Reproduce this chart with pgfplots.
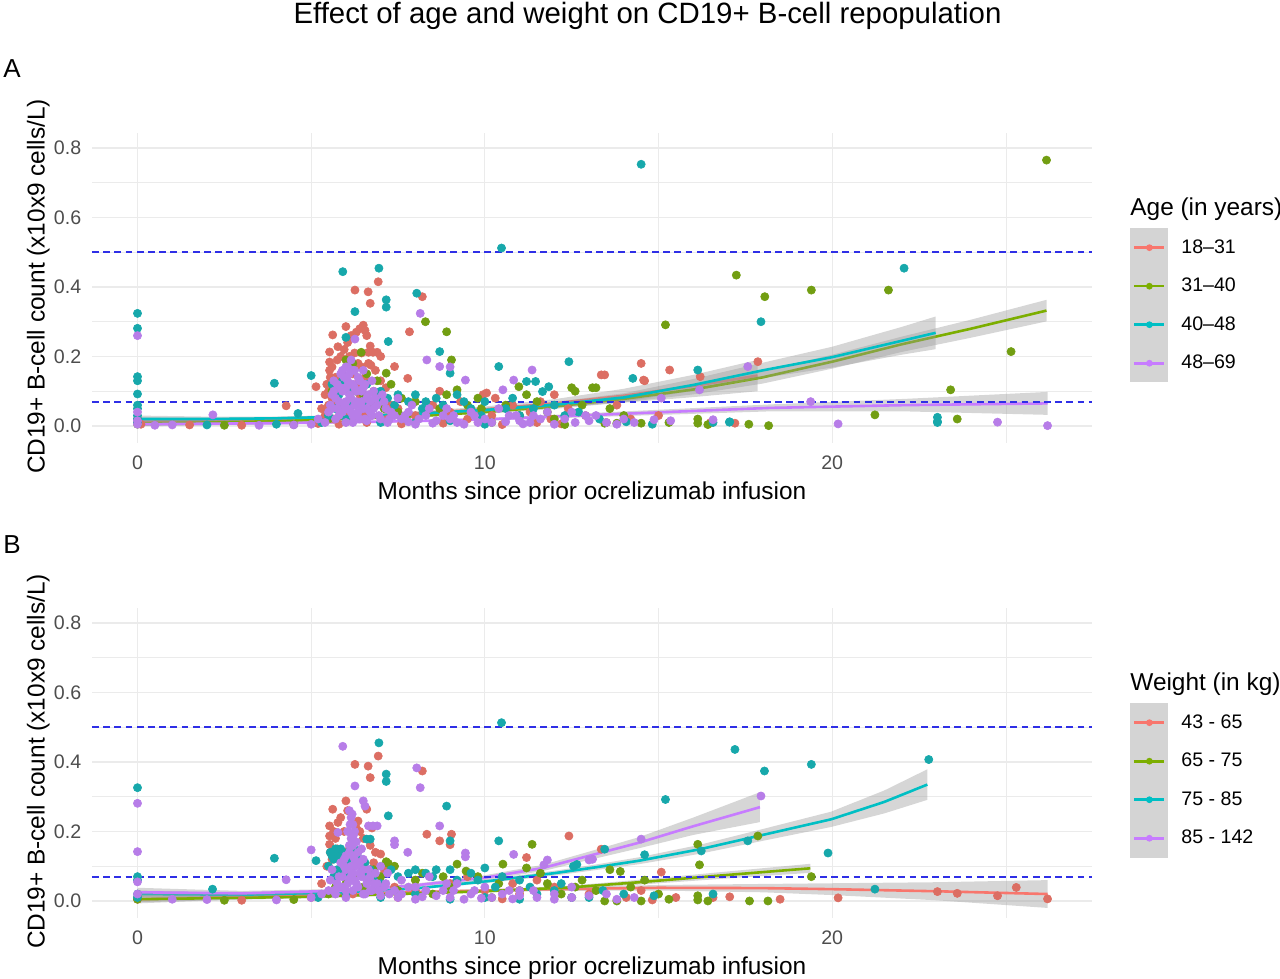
\documentclass[border=0pt]{standalone}
\usepackage{fontspec}
\setmainfont{Liberation Sans}
\usepackage{pgfplots}
\pgfplotsset{compat=1.18}
\definecolor{lred}{HTML}{F8766D}
\definecolor{lolive}{HTML}{7CAE00}
\definecolor{lteal}{HTML}{00BFC4}
\definecolor{lpurple}{HTML}{C77CFF}
\definecolor{pred}{HTML}{DC6E63}
\definecolor{polive}{HTML}{729E12}
\definecolor{pteal}{HTML}{17A8AB}
\definecolor{ppurple}{HTML}{B77DE8}
\definecolor{gridc}{HTML}{EBEBEB}
\definecolor{tickc}{HTML}{4D4D4D}
\definecolor{ribbon}{HTML}{999999}
\definecolor{keyg}{HTML}{D4D4D4}
\definecolor{dashb}{HTML}{2F2FE6}
\pgfplotsset{
  panel/.style={
    scale only axis, width=500pt, height=155pt,
    xmin=-1.31, xmax=27.48, ymin=-0.049, ymax=0.843,
    axis line style={draw=none}, major tick length=0pt, minor tick length=0pt,
    tick style={draw=none},
    xtick={0,10,20}, minor xtick={5,15,25},
    ytick={0,0.2,0.4,0.6,0.8}, minor ytick={0.1,0.3,0.5,0.7},
    grid=both,
    major grid style={color=gridc, line width=0.65pt},
    minor grid style={color=gridc, line width=0.35pt},
    /pgf/number format/assume math mode=true,
    scaled y ticks=false,
    y tick label style={/pgf/number format/.cd, fixed, fixed zerofill, precision=1, /tikz/.cd},
    tick label style={font=\fontsize{9.8}{11}\selectfont, text=tickc},
    yticklabel style={inner sep=0pt, xshift=-5.2pt},
    xticklabel style={inner sep=0pt, yshift=-6pt},
    legend image code/.code={
      \fill[keyg, draw=none] (0pt,-9.63pt) rectangle (19pt,9.63pt);
      \draw[line width=1.3pt] (2pt,0pt) -- (17pt,0pt);
      \fill[draw=none] (9.5pt,0pt) circle (1.7pt);
    },
    legend cell align=left,
    legend style={at={(1.038,0.6935)}, anchor=north west, draw=none, fill=none,
      inner sep=0pt, row sep=0pt, column sep=6.5pt,
      nodes={inner sep=0pt}, font=\fontsize{9.8}{11}\selectfont},
  },
  pts/.style={only marks, mark=*, color=#1, mark size=2.05pt, mark options={solid, fill=#1, draw=#1, line width=0.3pt}, forget plot},
  rib/.style={fill=ribbon, fill opacity=0.4, draw=none, forget plot},
  sm/.style={color=#1, line width=1.3pt, no marks},
  hl/.style={dashb, line width=0.9pt, dash pattern=on 3.4pt off 2.2pt, forget plot},
}
\begin{document}
\begin{tikzpicture}
\useasboundingbox (0,0) rectangle (640pt,-489.5pt);
% ---------------- Panel A ----------------
\begin{axis}[panel, at={(46pt,-221.5pt)}, anchor=south west]
\addplot[pts=pred] coordinates {
(4.28,0.058)(5.14,0.113)(5.62,0.262)(5.53,0.213)(5.53,0.184)(5.53,0.16)(5.77,0.228)(6.0,0.286)(6.5,0.29)(6.55,0.275)(6.6,0.26)(6.65,0.212)(6.78,0.212)(6.9,0.212)(6.65,0.18)(6.72,0.175)(6.26,0.391)(6.64,0.386)(6.7,0.353)(6.93,0.415)(8.2,0.372)(7.83,0.271)(7.4,0.171)(7.78,0.137)(9.95,0.09)(10.05,0.095)(13.35,0.147)(13.45,0.147)(14.5,0.18)(14.57,0.132)(14.6,0.13)(15.32,0.161)(16.2,0.142)(17.86,0.185)(5.45,0.12)(5.5,0.1)(5.6,0.08)(5.7,0.14)(5.8,0.11)(5.9,0.06)(6.1,0.2)(6.2,0.15)(6.3,0.12)(6.4,0.09)(6.45,0.17)(6.8,0.1)(7.0,0.13)(7.1,0.08)(5.3,0.05)(5.4,0.03)(5.65,0.02)(6.0,0.04)(6.5,0.03)(7.2,0.02)(7.5,0.05)(8.0,0.03)(8.5,0.06)(9.0,0.04)(9.5,0.02)(10.2,0.03)(10.8,0.06)(11.3,0.04)(11.9,0.02)(12.4,0.05)(12.9,0.03)(13.8,0.06)(0,0.01)(0,0.02)(0.1,0.005)(1.5,0.003)(3,0.002)(5.2,0.007)(5.8,0.005)(6.6,0.01)(7.6,0.006)(8.8,0.008)(10.5,0.004)(11.5,0.01)(12.2,0.006)(13.5,0.01)(14.2,0.02)(15.0,0.03)(16.5,0.01)(17.2,0.008)(10.3,0.08)(11.6,0.07)(12.0,0.09)(9.3,0.07)(8.7,0.1)
(5.4,0.09)(5.5,0.06)(5.55,0.14)(5.6,0.17)(5.7,0.06)(5.75,0.19)(5.85,0.2)(5.95,0.22)(6.05,0.24)(6.15,0.26)(6.25,0.21)(6.35,0.18)(6.45,0.21)(6.55,0.14)(6.7,0.23)(6.85,0.16)(7.0,0.2)(7.15,0.11)(7.3,0.06)(6.4,0.28)(6.3,0.27)
};
\addplot[pts=polive] coordinates {
(0,0.005)(0,0.01)(6.0,0.19)(6.44,0.212)(6.2,0.18)(6.6,0.15)(7.16,0.152)(7.3,0.12)(8.29,0.3)(8.9,0.271)(9.04,0.19)(9.2,0.104)(10.98,0.113)(12.5,0.11)(12.6,0.1)(13.1,0.11)(13.2,0.11)(15.2,0.291)(17.24,0.434)(18.06,0.372)(19.4,0.391)(21.62,0.391)(25.15,0.214)(23.41,0.104)(21.23,0.032)(23.6,0.02)(26.17,0.765)(17.6,0.005)(18.17,0.001)(16.13,0.02)(16.13,0.008)(16.42,0.004)(15.3,0.01)(14.5,0.008)(13.8,0.008)(13.45,0.008)(12.0,0.02)(11.0,0.03)(10.2,0.01)(9.5,0.06)(8.7,0.05)(8.0,0.07)(7.5,0.04)(7.0,0.09)(6.8,0.06)(6.3,0.1)(5.8,0.05)(5.5,0.02)(9.8,0.08)(11.5,0.07)(12.8,0.06)(14.0,0.03)(12.3,0.004)(2.5,0.002)(4.5,0.004)
(5.6,0.1)(5.9,0.15)(6.1,0.12)(6.5,0.09)(6.9,0.13)(7.1,0.05)(7.6,0.08)(8.3,0.04)(8.9,0.09)(9.9,0.05)(10.6,0.06)(11.2,0.09)(11.8,0.04)(13.6,0.05)
};
\addplot[pts=pteal] coordinates {
(0,0.324)(0,0.281)(0,0.142)(0,0.13)(0,0.092)(0,0.06)(0,0.05)(0,0.03)(0,0.02)(0,0.01)(3.94,0.123)(4.62,0.036)(5.0,0.145)(5.91,0.444)(6.95,0.454)(7.16,0.363)(7.16,0.342)(6.26,0.329)(8.04,0.382)(7.22,0.243)(8.7,0.214)(9.0,0.152)(6.0,0.255)(10.48,0.512)(10.4,0.171)(12.42,0.185)(16.13,0.161)(14.26,0.137)(11.2,0.128)(11.46,0.128)(11.84,0.113)(11.66,0.099)(14.07,0.012)(14.82,0.005)(16.57,0.01)(17.05,0.012)(17.95,0.3)(14.5,0.753)(22.07,0.454)(23.03,0.025)(23.03,0.013)(23.03,0.01)(17.04,0.011)(5.6,0.12)(5.8,0.09)(6.1,0.1)(6.5,0.07)(7.0,0.1)(7.2,0.08)(7.4,0.06)(8.0,0.09)(8.3,0.07)(8.6,0.08)(9.2,0.09)(9.6,0.05)(10.0,0.07)(10.6,0.05)(11.0,0.03)(12.0,0.06)(12.7,0.04)(13.3,0.02)(5.3,0.01)(6.0,0.02)(7.0,0.01)(8.0,0.01)(9.0,0.015)(10.0,0.005)(2.0,0.003)(4.0,0.005)
(5.5,0.03)(5.7,0.05)(5.9,0.13)(6.2,0.06)(6.6,0.12)(6.9,0.08)(7.5,0.09)(7.8,0.07)(8.2,0.05)(8.8,0.06)(9.4,0.07)(9.9,0.03)(10.8,0.08)(11.4,0.05)(12.3,0.03)
};
\addplot[pts=ppurple] coordinates {
(0,0.26)(0,0.04)(0,0.015)(0,0.005)(0.5,0.002)(2.17,0.032)(6.26,0.25)(8.14,0.324)(8.33,0.19)(8.7,0.171)(9.0,0.17)(9.44,0.132)(10.52,0.104)(10.83,0.132)(11.36,0.161)(15.08,0.08)(16.18,0.104)(17.57,0.171)(19.38,0.07)(14.87,0.018)(15.35,0.015)(16.57,0.018)(20.17,0.006)(24.76,0.011)(26.2,0.001)(5.6,0.05)(5.7,0.08)(5.75,0.12)(5.8,0.03)(5.85,0.15)(5.9,0.1)(5.95,0.06)(6.0,0.17)(6.05,0.13)(6.1,0.09)(6.15,0.04)(6.2,0.16)(6.25,0.11)(6.3,0.07)(6.35,0.14)(6.4,0.02)(6.45,0.1)(6.5,0.05)(6.55,0.12)(6.6,0.08)(6.7,0.04)(6.8,0.1)(6.9,0.06)(7.0,0.02)(7.1,0.07)(7.3,0.04)(7.5,0.08)(7.7,0.03)(7.9,0.06)(8.1,0.02)(8.4,0.05)(8.8,0.03)(9.2,0.01)(9.6,0.04)(10.0,0.02)(10.4,0.05)(10.9,0.03)(11.3,0.01)(11.8,0.04)(12.3,0.02)(12.9,0.03)(13.5,0.01)(5.2,0.02)(5.4,0.01)(5.5,0.04)(5.0,0.005)(4.5,0.003)(3.5,0.002)(1.0,0.003)(6.2,0.01)(6.6,0.015)(7.2,0.01)(7.8,0.012)(8.5,0.008)(9.0,0.02)(9.8,0.01)(10.6,0.012)(11.1,0.006)(11.6,0.02)(12.6,0.01)(13.2,0.03)(14.0,0.02)(6.0,0.07)(6.1,0.12)(6.3,0.03)(6.5,0.16)(6.4,0.06)(5.65,0.1)(6.75,0.13)(7.05,0.09)
(5.55,0.06)(5.6,0.09)(5.65,0.13)(5.7,0.02)(5.75,0.05)(5.8,0.07)(5.85,0.11)(5.9,0.04)(5.95,0.14)(6.0,0.01)(6.0,0.11)(6.05,0.05)(6.1,0.15)(6.15,0.08)(6.2,0.03)(6.2,0.12)(6.25,0.06)(6.3,0.1)(6.35,0.04)(6.4,0.13)(6.45,0.07)(6.5,0.11)(6.55,0.02)(6.6,0.05)(6.65,0.09)(6.7,0.07)(6.75,0.03)(6.8,0.05)(6.85,0.08)(6.95,0.03)(7.15,0.05)(7.25,0.02)(7.4,0.03)(7.6,0.02)(7.8,0.04)(8.0,0.005)(8.3,0.03)(8.6,0.015)(8.9,0.05)(9.1,0.03)(9.4,0.005)(9.7,0.03)(10.2,0.01)(10.7,0.03)(11.0,0.015)(11.4,0.03)(12.0,0.005)(12.5,0.04)(13.0,0.015)(13.8,0.005)(14.3,0.01)(5.9,0.16)(6.05,0.17)(6.25,0.16)(6.15,0.19)
};
% red
\addplot[rib] coordinates {(0,0.024)(2,0.023)(4,0.026)(6,0.032)(8,0.042)(10,0.056)(12,0.077)(14,0.107)(16,0.147)(17.85,0.19)(17.85,0.1)(16,0.083)(14,0.067)(12,0.053)(10,0.04)(8,0.03)(6,0.022)(4,0.014)(2,0.007)(0,0.0)};
\addplot[sm=lred] coordinates {(0,0.012)(2,0.015)(4,0.02)(6,0.027)(8,0.036)(10,0.048)(12,0.065)(14,0.087)(16,0.115)(17.85,0.145)};
\addlegendentry{18–31}
% olive
\addplot[rib] coordinates {(0,0.016)(2,0.016)(4,0.019)(6,0.024)(8,0.032)(10,0.045)(12,0.063)(14,0.088)(16,0.119)(18,0.158)(20,0.205)(22,0.257)(24,0.306)(26.17,0.363)(26.17,0.301)(24,0.254)(22,0.213)(20,0.165)(18,0.122)(16,0.091)(14,0.068)(12,0.049)(10,0.035)(8,0.024)(6,0.016)(4,0.009)(2,0.004)(0,0.0)};
\addplot[sm=lolive] coordinates {(0,0.008)(2,0.01)(4,0.014)(6,0.02)(8,0.028)(10,0.04)(12,0.056)(14,0.078)(16,0.105)(18,0.14)(20,0.185)(22,0.235)(24,0.28)(26.17,0.332)};
\addlegendentry{31–40}
% teal
\addplot[rib] coordinates {(0,0.03)(2,0.027)(4,0.027)(6,0.031)(8,0.039)(10,0.051)(12,0.069)(14,0.094)(16,0.135)(18,0.182)(20,0.228)(22,0.285)(22.98,0.315)(22.98,0.221)(22,0.205)(20,0.168)(18,0.138)(16,0.101)(14,0.07)(12,0.053)(10,0.041)(8,0.031)(6,0.023)(4,0.017)(2,0.013)(0,0.01)};
\addplot[sm=lteal] coordinates {(0,0.02)(2,0.02)(4,0.022)(6,0.027)(8,0.035)(10,0.046)(12,0.061)(14,0.082)(16,0.118)(18,0.16)(20,0.198)(22,0.245)(22.98,0.268)};
\addlegendentry{40–48}
% purple
\addplot[rib] coordinates {(0,0.011)(4,0.012)(8,0.017)(10,0.023)(12,0.032)(14.45,0.044)(18.2,0.062)(22.1,0.078)(26.2,0.098)(26.2,0.032)(22.1,0.042)(18.2,0.042)(14.45,0.03)(12,0.022)(10,0.015)(8,0.011)(4,0.004)(0,-0.001)};
\addplot[sm=lpurple] coordinates {(0,0.005)(4,0.008)(8,0.014)(10,0.019)(12,0.027)(14.45,0.037)(18.2,0.052)(22.1,0.06)(26.2,0.065)};
\addlegendentry{48–69}
\addplot[hl] coordinates {(-1.31,0.5)(27.48,0.5)};
\addplot[hl] coordinates {(-1.31,0.07)(27.48,0.07)};
\end{axis}
% ---------------- Panel B ----------------
\begin{axis}[panel, at={(46pt,-459pt)}, anchor=south west]
\addplot[pts=pred] coordinates {
(6.93,0.417)(6.26,0.393)(6.64,0.388)(6.7,0.355)(8.2,0.374)(8.33,0.192)(8.7,0.173)(9.04,0.192)(9.0,0.162)(5.62,0.264)(5.53,0.216)(5.53,0.187)(5.53,0.163)(5.77,0.226)(6.0,0.288)(6.6,0.264)(7.0,0.135)(12.42,0.187)(13.35,0.149)(11.2,0.125)(15.08,0.083)(14.07,0.01)(14.82,0.003)(16.57,0.01)(17.05,0.012)(20.17,0.009)(23.03,0.027)(23.6,0.022)(24.76,0.015)(25.3,0.039)(26.2,0.006)(5.3,0.05)(5.6,0.12)(5.8,0.09)(6.1,0.15)(6.4,0.2)(6.8,0.11)(6.9,0.06)(7.4,0.04)(8.0,0.03)(9.0,0.05)(10.0,0.03)(11.0,0.02)(12.0,0.04)(13.0,0.02)(14.5,0.03)(0,0.005)(0,0.01)(3.0,0.002)(5.0,0.01)(6.2,0.02)(7.5,0.01)(10.5,0.006)(12.5,0.01)(15.5,0.01)(18.5,0.005)(5.7,0.18)(6.3,0.21)(6.75,0.21)(5.9,0.14)(8.0,0.06)(9.5,0.07)(10.8,0.05)(11.5,0.06)
(5.45,0.1)(5.55,0.14)(5.65,0.2)(5.75,0.15)(5.85,0.24)(5.95,0.2)(6.05,0.26)(6.2,0.19)(6.35,0.23)(6.5,0.18)(6.7,0.16)(6.85,0.14)(7.1,0.09)
};
\addplot[pts=polive] coordinates {
(9.2,0.106)(9.46,0.086)(7.16,0.113)(7.22,0.108)(10.52,0.106)(11.36,0.163)(11.2,0.095)(13.6,0.09)(13.9,0.085)(16.13,0.163)(16.18,0.104)(17.86,0.187)(19.4,0.07)(13.45,0.0)(13.8,0.0)(14.5,0.0)(15.3,0.005)(16.13,0.015)(16.13,0.003)(16.42,0.0)(17.62,0.0)(18.15,0.0)(0,0.005)(5.5,0.02)(6.0,0.05)(6.5,0.04)(7.0,0.07)(7.5,0.03)(8.0,0.06)(8.5,0.02)(9.0,0.04)(9.8,0.07)(10.2,0.01)(11.0,0.03)(11.8,0.05)(12.2,0.02)(12.8,0.06)(13.2,0.03)(14.2,0.04)(15.0,0.02)(2.5,0.002)(4.5,0.004)
(5.7,0.04)(6.2,0.07)(6.8,0.09)(7.4,0.1)(8.2,0.08)(8.8,0.07)(10.4,0.05)(11.6,0.08)(12.6,0.04)(14.6,0.06)
};
\addplot[pts=pteal] coordinates {
(0,0.326)(0,0.07)(0,0.06)(2.16,0.034)(3.94,0.123)(5.14,0.116)(6.95,0.455)(7.16,0.365)(7.16,0.344)(8.9,0.273)(7.22,0.245)(9.0,0.173)(6.6,0.178)(6.7,0.178)(10.48,0.513)(10.4,0.173)(10.0,0.095)(12.55,0.1)(12.65,0.105)(13.45,0.149)(14.6,0.133)(16.23,0.144)(17.57,0.173)(15.2,0.292)(17.2,0.436)(18.05,0.374)(19.4,0.393)(19.88,0.138)(22.78,0.407)(21.23,0.034)(14.87,0.015)(16.57,0.02)(5.6,0.13)(5.7,0.15)(5.8,0.12)(5.9,0.14)(6.0,0.11)(6.1,0.145)(6.2,0.1)(6.3,0.13)(6.4,0.12)(5.5,0.1)(5.65,0.07)(6.5,0.08)(6.8,0.06)(7.0,0.05)(7.5,0.07)(8.0,0.09)(8.3,0.08)(8.6,0.09)(9.2,0.06)(9.6,0.08)(10.3,0.04)(11.0,0.06)(11.5,0.02)(12.0,0.03)(13.0,0.01)(14.0,0.02)(5.2,0.01)(6.0,0.02)(7.0,0.01)(8.0,0.02)(9.0,0.005)(10.0,0.01)(11.0,0.005)(12.5,0.01)(0,0.01)(0,0.02)
(5.55,0.14)(5.65,0.12)(5.75,0.13)(5.85,0.15)(5.95,0.13)(6.05,0.12)(6.15,0.135)(6.35,0.145)(6.45,0.1)(5.75,0.09)(5.95,0.08)(6.55,0.11)(6.7,0.09)(7.3,0.09)(7.8,0.08)(8.5,0.07)(9.0,0.09)(9.8,0.06)(10.5,0.07)(11.3,0.04)(12.2,0.05)(13.4,0.03)
};
\addplot[pts=ppurple] coordinates {
(0,0.281)(0,0.142)(0,0.055)(0,0.02)(4.28,0.061)(5.0,0.147)(5.91,0.445)(6.26,0.331)(8.04,0.383)(8.14,0.326)(8.7,0.216)(7.4,0.173)(7.4,0.162)(7.78,0.14)(9.44,0.138)(9.44,0.127)(6.5,0.288)(6.55,0.273)(6.65,0.216)(6.78,0.216)(6.9,0.216)(5.77,0.197)(10.83,0.134)(11.7,0.104)(11.8,0.118)(13.0,0.118)(13.1,0.12)(14.5,0.178)(17.95,0.302)(6.1,0.26)(6.15,0.24)(6.2,0.22)(6.25,0.2)(6.15,0.18)(6.2,0.16)(6.1,0.14)(6.25,0.12)(6.15,0.1)(6.2,0.08)(6.1,0.06)(6.3,0.05)(6.0,0.09)(6.4,0.11)(5.9,0.07)(6.5,0.09)(6.6,0.06)(5.8,0.04)(6.7,0.03)(6.9,0.05)(7.2,0.08)(7.6,0.06)(8.0,0.04)(8.4,0.07)(8.8,0.03)(9.2,0.05)(9.6,0.02)(10.0,0.04)(10.5,0.02)(11.0,0.03)(11.5,0.01)(12.0,0.02)(5.5,0.03)(5.3,0.02)(5.0,0.01)(4.0,0.003)(2.0,0.004)(1.0,0.005)(6.0,0.01)(6.5,0.02)(7.0,0.015)(7.5,0.01)(8.2,0.012)(9.0,0.01)(9.9,0.008)(10.8,0.006)(12.5,0.01)(13.5,0.02)(6.05,0.2)(6.3,0.17)(6.35,0.14)(5.95,0.12)(6.45,0.15)(7.0,0.1)(7.1,0.04)
(5.55,0.06)(5.6,0.09)(5.65,0.03)(5.7,0.02)(5.75,0.05)(5.8,0.07)(5.85,0.11)(5.9,0.04)(5.95,0.1)(6.0,0.03)(6.0,0.13)(6.05,0.05)(6.1,0.16)(6.15,0.07)(6.2,0.03)(6.2,0.13)(6.25,0.06)(6.3,0.1)(6.35,0.04)(6.4,0.08)(6.45,0.07)(6.5,0.12)(6.55,0.02)(6.6,0.05)(6.65,0.09)(6.7,0.07)(6.75,0.03)(6.8,0.05)(6.85,0.08)(6.95,0.03)(7.15,0.05)(7.25,0.02)(7.4,0.03)(7.6,0.02)(7.8,0.04)(8.0,0.005)(8.3,0.03)(8.6,0.015)(8.9,0.05)(9.1,0.03)(9.4,0.005)(9.7,0.03)(10.2,0.01)(10.7,0.03)(11.0,0.015)(11.4,0.03)(12.0,0.005)(12.5,0.04)(13.0,0.015)(13.8,0.005)(14.3,0.01)(6.12,0.22)(6.18,0.25)(6.22,0.19)
};
% red
\addplot[rib] coordinates {(0,0.017)(3,0.019)(6,0.024)(9,0.032)(12,0.039)(15,0.046)(18,0.049)(20,0.051)(23,0.054)(26.2,0.06)(26.2,-0.02)(23,0.002)(20,0.017)(18,0.025)(15,0.03)(12,0.029)(9,0.024)(6,0.016)(3,0.005)(0,-0.007)};
\addplot[sm=lred] coordinates {(0,0.005)(3,0.012)(6,0.02)(9,0.028)(12,0.034)(15,0.038)(18,0.037)(20,0.034)(23,0.028)(26.2,0.02)};
\addlegendentry{43 - 65}
% olive
\addplot[rib] coordinates {(0,0.013)(5,0.016)(10,0.032)(12.44,0.044)(14.45,0.061)(17,0.085)(19.37,0.107)(19.37,0.081)(17,0.065)(14.45,0.047)(12.44,0.034)(10,0.024)(5,0.008)(0,-0.003)};
\addplot[sm=lolive] coordinates {(0,0.005)(5,0.012)(10,0.028)(12.44,0.039)(14.45,0.054)(17,0.075)(19.37,0.094)};
\addlegendentry{65 - 75}
% teal
\addplot[rib] coordinates {(0,0.03)(3,0.024)(6,0.029)(8,0.04)(10,0.061)(12,0.087)(13.2,0.105)(14.45,0.126)(16.2,0.162)(18,0.207)(19.97,0.257)(21.5,0.318)(22.74,0.379)(22.74,0.291)(21.5,0.252)(19.97,0.213)(18,0.173)(16.2,0.136)(14.45,0.106)(13.2,0.089)(12,0.073)(10,0.051)(8,0.032)(6,0.021)(3,0.012)(0,0.01)};
\addplot[sm=lteal] coordinates {(0,0.02)(3,0.018)(6,0.025)(8,0.036)(10,0.056)(12,0.08)(13.2,0.097)(14.45,0.116)(16.2,0.149)(18,0.19)(19.97,0.235)(21.5,0.285)(22.74,0.335)};
\addlegendentry{75 - 85}
% purple
\addplot[rib] coordinates {(0,0.038)(3,0.029)(6,0.035)(8,0.05)(10,0.074)(11.67,0.104)(13,0.142)(14.45,0.184)(16,0.24)(17.92,0.313)(17.92,0.227)(16,0.19)(14.45,0.152)(13,0.118)(11.67,0.086)(10,0.06)(8,0.04)(6,0.025)(3,0.015)(0,0.012)};
\addplot[sm=lpurple] coordinates {(0,0.025)(3,0.022)(6,0.03)(8,0.045)(10,0.067)(11.67,0.095)(13,0.13)(14.45,0.168)(16,0.215)(17.92,0.27)};
\addlegendentry{85 - 142}
\addplot[hl] coordinates {(-1.31,0.5)(27.48,0.5)};
\addplot[hl] coordinates {(-1.31,0.07)(27.48,0.07)};
\end{axis}
% ---------------- Text ----------------
\node[anchor=base, font=\fontsize{14.7}{16}\selectfont] at (323.75pt,-11.8pt) {Effect of age and weight on CD19+ B-cell repopulation};
\node[anchor=base west, inner sep=0pt, font=\fontsize{13}{15}\selectfont] at (1.5pt,-39pt) {A};
\node[anchor=base west, inner sep=0pt, font=\fontsize{13}{15}\selectfont] at (1.5pt,-276.5pt) {B};
\node[anchor=base, inner sep=0pt, font=\fontsize{12.2}{14}\selectfont] at (296pt,-249.75pt) {Months since prior ocrelizumab infusion};
\node[anchor=base, inner sep=0pt, font=\fontsize{12.2}{14}\selectfont] at (296pt,-487.25pt) {Months since prior ocrelizumab infusion};
\node[anchor=base, rotate=90, inner sep=0pt, font=\fontsize{12.2}{14}\selectfont] at (22.25pt,-143.25pt) {CD19+ B-cell count (x10x9 cells/L)};
\node[anchor=base, rotate=90, inner sep=0pt, font=\fontsize{12.2}{14}\selectfont] at (22.25pt,-380.75pt) {CD19+ B-cell count (x10x9 cells/L)};
\node[anchor=base west, inner sep=0pt, font=\fontsize{12.2}{14}\selectfont] at (565pt,-107.5pt) {Age (in years)};
\node[anchor=base west, inner sep=0pt, font=\fontsize{12.2}{14}\selectfont] at (565pt,-345pt) {Weight (in kg)};
\end{tikzpicture}
\end{document}
